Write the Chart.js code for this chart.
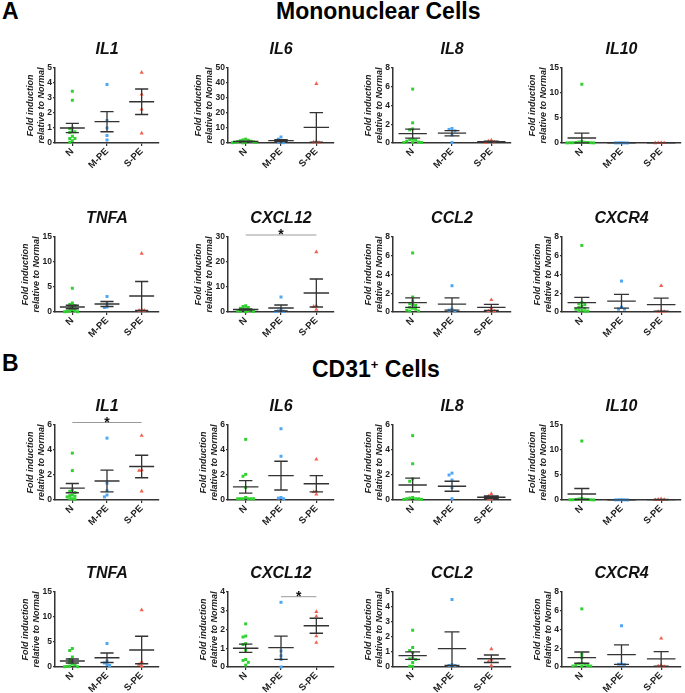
<!DOCTYPE html>
<html>
<head>
<meta charset="utf-8">
<script src="https://cdn.jsdelivr.net/npm/chart.js@4"></script>
<style>
  body { margin: 0; width: 685px; height: 693px; position: relative; overflow: hidden; background: #fff; }
  .hdr { position: absolute; font-family: "Liberation Sans", Arial, sans-serif; font-weight: bold; font-size: 23px; line-height: 22px; color: #000; white-space: nowrap; }
  .hdr sup { font-size: 13px; vertical-align: 8px; line-height: 0; }
</style>
</head>
<body>
<div class="hdr" style="left:2px; top:0px;">A</div>
<div class="hdr" style="left:276px; top:0px;">Mononuclear Cells</div>
<div class="hdr" style="left:2px; top:352px;">B</div>
<div class="hdr" style="left:312px; top:358px;">CD31<sup>+</sup> Cells</div>
<script>
const groups = ["N", "M-PE", "S-PE"];
const genes = ["IL1", "IL6", "IL8", "IL10", "TNFA", "CXCL12", "CCL2", "CXCR4"];

// Mononuclear cells: points per group [N, M-PE, S-PE]
const mnIL1 = [[3.45, 2.85, 1.0, 0.95, 0.75, 0.75, 0.7, 0.45, 0.3, 0.3, 0.15, 0.05], [3.9, 1.5, 1.0, 0.5, 0.2], [4.7, 3.25, 2.25, 0.65]];
const mnIL6 = [[2.6, 2.1, 1.8, 1.5, 1.2, 1.0, 0.8, 0.6, 0.4, 0.3, 0.2, 0.1], [4.0, 2.6, 1.5, 0.4, 0.2], [39.5, 1.0, 0.5, 0.3]];
const mnIL8 = [[5.75, 2.15, 1.5, 1.4, 0.4, 0.35, 0.3, 0.2, 0.1, 0.05, 0.05, 0.05], [1.55, 1.45, 1.3, 0.85, 0.05], [0.3, 0.2, 0.1, 0.05]];
const mnIL10 = [[11.75, 0.3, 0.2, 0.15, 0.1, 0.1, 0.05, 0.05, 0.05, 0.02, 0.02], [0.05, 0.03, 0.02, 0.02, 0.01], [0.05, 0.03, 0.02, 0.01]];
const mnTNFA = [[4.75, 1.8, 1.5, 1.3, 1.2, 0.8, 0.5, 0.3, 0.2, 0.1, 0.05, 0.05], [3.1, 1.6, 1.0, 0.9], [11.7, 0.4, 0.3, 0.3]];
const mnCXCL12 = [[2.5, 2.2, 1.8, 1.5, 1.3, 1.0, 0.8, 0.6, 0.4, 0.3, 0.2, 0.1], [6.0, 1.0, 0.5, 0.3, 0.2], [24.0, 2.5, 2.2, 1.0]];
const mnCCL2 = [[6.3, 1.6, 1.2, 0.9, 0.8, 0.7, 0.5, 0.4, 0.3, 0.2, 0.1, 0.1], [2.8, 0.3, 0.2, 0.1], [1.3, 0.4, 0.1, 0.1]];
const mnCXCR4 = [[7.1, 1.0, 0.9, 0.8, 0.6, 0.5, 0.4, 0.3, 0.2, 0.15, 0.1, 0.05], [3.3, 0.5, 0.3, 0.3], [2.8, 0.1, 0.05, 0.05]];
const mnMean = [[1.0, 1.42, 2.75], [1.0, 1.6, 10.4], [1.0, 1.05, 0.15], [1.0, 0.03, 0.03], [1.0, 1.6, 3.2], [1.0, 1.6, 7.6], [1.0, 0.85, 0.5], [1.0, 1.15, 0.78]];
const mnSem = [[0.31, 0.67, 0.85], [0.25, 0.7, 9.8], [0.48, 0.28, 0.06], [0.97, 0.01, 0.01], [0.35, 0.5, 2.9], [0.25, 1.2, 5.6], [0.5, 0.65, 0.32], [0.57, 0.73, 0.7]];
const mnMax = [5, 50, 8, 15, 15, 30, 8, 8];
const mnStep = [1, 10, 2, 5, 5, 10, 2, 2];

// CD31+ cells
const cdIL1 = [[3.75, 2.35, 0.8, 0.7, 0.6, 0.4, 0.35, 0.3, 0.25, 0.1, 0.1, 0.05], [4.95, 1.35, 0.75, 0.4, 0.25], [5.15, 2.4, 2.35, 0.7]];
const cdIL6 = [[4.85, 2.05, 1.9, 1.0, 0.2, 0.1, 0.1, 0.1, 0.1, 0.1, 0.1], [5.7, 3.5, 0.2, 0.15, 0.1], [3.25, 0.7, 0.65, 0.45]];
const cdIL8 = [[5.15, 2.9, 1.7, 1.5, 0.2, 0.15, 0.1, 0.1, 0.1, 0.05, 0.05], [2.15, 2.0, 1.6, 1.0, 0.1], [0.5, 0.3, 0.1, 0.05]];
const cdIL10 = [[11.8, 0.3, 0.2, 0.15, 0.1, 0.1, 0.05, 0.05, 0.05, 0.02], [0.05, 0.04, 0.03, 0.02, 0.01], [0.2, 0.1, 0.05, 0.02]];
const cdTNFA = [[3.7, 3.3, 2.0, 1.5, 1.2, 0.9, 0.6, 0.4, 0.2, 0.1, 0.05, 0.05], [4.7, 1.2, 0.8, 0.5, 0.3], [11.4, 1.0, 0.5, 0.2]];
const cdCXCL12 = [[2.3, 1.65, 1.6, 1.25, 1.2, 0.9, 0.4, 0.35, 0.25, 0.1], [3.45, 0.85, 0.6, 0.4, 0.0], [2.95, 2.7, 1.65, 1.3]];
const cdCCL2 = [[2.45, 1.3, 1.1, 0.95, 0.6, 0.55, 0.5, 0.3, 0.05, 0.05], [4.5, 0.15, 0.1, 0.1], [1.2, 0.5, 0.35, 0.1]];
const cdCXCR4 = [[6.2, 1.35, 1.0, 0.4, 0.35, 0.3, 0.2, 0.15, 0.1, 0.1, 0.05], [4.4, 0.3, 0.3, 0.25], [3.05, 0.2, 0.1, 0.05]];
const cdMean = [[0.95, 1.52, 2.68], [1.05, 1.95, 1.3], [1.2, 1.1, 0.22], [1.2, 0.03, 0.09], [1.2, 1.85, 3.4], [1.0, 1.03, 2.2], [0.76, 1.22, 0.55], [1.0, 1.32, 0.87]];
const cdSem = [[0.37, 0.87, 0.9], [0.5, 1.15, 0.65], [0.55, 0.4, 0.1], [1.1, 0.01, 0.04], [0.4, 0.95, 2.75], [0.22, 0.62, 0.4], [0.25, 1.12, 0.25], [0.6, 1.03, 0.78]];
const cdMax = [6, 6, 6, 15, 15, 4, 5, 8];
const cdStep = [2, 2, 2, 5, 5, 1, 1, 2];

// significance bars: [section, gene, from group, to group, y value]
const sigBars = [["mn", "CXCL12", 0, 2, 30.8], ["cd", "IL1", 0, 2, 6.2], ["cd", "CXCL12", 1, 2, 3.75]];

const colors = ["#2fd12f", "#4ea6f5", "#f4604f"];
const shapes = ["rect", "rect", "triangle"];

// layout of the 4x4 grid
const colAxis = [55, 228, 393, 562];
const colPlot = [105, 107, 119, 120];
const rowTop = [68, 237, 425, 592];

Chart.defaults.font.family = '"Liberation Sans", Arial, sans-serif';
Chart.defaults.color = "#222";

// spread points sideways where values collide (column scatter)
const swarm = (vals, i, yMax) => {
  const placed = [];
  const thr = yMax * 0.04;
  const slots = [0, -1, 1, -2, 2, -3, 3, -4, 4, -5, 5, -6, 6];
  return vals.map(v => {
    let k = slots[slots.length - 1];
    for (const s of slots) {
      if (!placed.some(p => p.s === s && Math.abs(p.v - v) < thr)) { k = s; break; }
    }
    placed.push({ s: k, v: v });
    return { x: i + k * 0.075, y: v };
  });
}

const errBar = (i, m, s) => [
  { x: i - 0.36, y: m }, { x: i + 0.36, y: m }, { x: i, y: null },
  { x: i, y: m + s }, { x: i, y: Math.max(m - s, 0) }, { x: i, y: null },
  { x: i - 0.19, y: m + s }, { x: i + 0.19, y: m + s }, { x: i, y: null },
  { x: i - 0.19, y: Math.max(m - s, 0) }, { x: i + 0.19, y: Math.max(m - s, 0) }
];

const sigPlugin = (sig) => ({
  id: "sig",
  afterDatasetsDraw: (chart) => {
    if (!sig) return;
    const { ctx, scales: { x, y } } = chart;
    const x1 = x.getPixelForValue(sig[2]);
    const x2 = x.getPixelForValue(sig[3]);
    const yp = y.getPixelForValue(sig[4]);
    ctx.save();
    ctx.strokeStyle = "#9a9a9a";
    ctx.lineWidth = 1;
    ctx.beginPath();
    ctx.moveTo(x1, yp);
    ctx.lineTo(x2, yp);
    ctx.stroke();
    ctx.fillStyle = "#111";
    ctx.font = 'bold 14px "Liberation Sans", Arial';
    ctx.textAlign = "center";
    ctx.fillText("*", (x1 + x2) / 2, yp + 4);
    ctx.restore();
  }
});

const makePanel = (section, row, col, gene, pts, mean, sem, yMax, step) => {
  const cv = document.createElement("canvas");
  cv.width = colPlot[col] + 55 + 3;
  cv.height = 150;
  cv.style.cssText = `position:absolute;left:${colAxis[col] - 55}px;top:${rowTop[row] - 40}px;`;
  document.body.appendChild(cv);

  const datasets = [];
  pts.forEach((vals, i) => {
    datasets.push({
      type: "scatter",
      data: swarm(vals, i, yMax),
      pointStyle: shapes[i],
      pointRadius: i === 2 ? 2.4 : 2.1,
      backgroundColor: colors[i],
      borderWidth: 0,
      clip: false,
      order: 1
    });
  });
  mean.forEach((m, i) => {
    datasets.push({
      type: "line",
      data: errBar(i, m, sem[i]),
      borderColor: "#333",
      borderWidth: 1.3,
      pointRadius: 0,
      spanGaps: false,
      clip: false,
      order: 0
    });
  });

  const sig = sigBars.find(s => s[0] === section && s[1] === gene);
  // y title moves left when tick labels are two digits wide
  const titlePad = yMax >= 10 ? 20.6 : 25.6;

  new Chart(cv, {
    type: "scatter",
    data: { datasets: datasets },
    plugins: [sigPlugin(sig)],
    options: {
      responsive: false,
      animation: false,
      devicePixelRatio: 1,
      events: [],
      layout: { padding: { left: 0, right: 3, top: 0, bottom: 0 } },
      plugins: {
        legend: { display: false },
        tooltip: { enabled: false },
        title: {
          display: true,
          text: gene,
          fullSize: false,
          color: "#111",
          font: { size: 16, style: "italic", weight: "bold" },
          padding: { top: 11.9, bottom: 8.9 }
        }
      },
      scales: {
        x: {
          type: "linear",
          min: -0.5,
          max: 2.5,
          afterBuildTicks: (scale) => { scale.ticks = groups.map((g, i) => ({ value: i })); },
          afterFit: (scale) => { scale.height = 35; },
          ticks: {
            callback: (v) => groups[v],
            autoSkip: false,
            maxRotation: 45,
            minRotation: 45,
            padding: 0,
            color: "#222",
            font: { size: 9.5, weight: "bold" }
          },
          grid: { drawOnChartArea: false, drawTicks: true, tickLength: 3, color: "#333", lineWidth: 1.2 },
          border: { display: true, color: "#333", width: 1.5 }
        },
        y: {
          min: 0,
          max: yMax,
          afterFit: (scale) => { scale.width = 55; },
          ticks: {
            stepSize: step,
            padding: 1,
            color: "#222",
            font: { size: 8.5, weight: "bold" }
          },
          grid: { drawOnChartArea: false, drawTicks: true, tickLength: 2, color: "#333", lineWidth: 1.2 },
          border: { display: true, color: "#333", width: 1.5 },
          title: {
            display: true,
            text: ["Fold induction", "relative to Normal"],
            color: "#222",
            font: { size: 9, style: "italic", weight: "bold", lineHeight: 1.2 },
            padding: { top: titlePad, bottom: 0 }
          }
        }
      }
    }
  });
}

const mnPoints = [mnIL1, mnIL6, mnIL8, mnIL10, mnTNFA, mnCXCL12, mnCCL2, mnCXCR4];
const cdPoints = [cdIL1, cdIL6, cdIL8, cdIL10, cdTNFA, cdCXCL12, cdCCL2, cdCXCR4];

genes.forEach((g, k) => {
  const row = Math.floor(k / 4);
  const col = k % 4;
  makePanel("mn", row, col, g, mnPoints[k], mnMean[k], mnSem[k], mnMax[k], mnStep[k]);
  makePanel("cd", row + 2, col, g, cdPoints[k], cdMean[k], cdSem[k], cdMax[k], cdStep[k]);
});
</script>
</body>
</html>
